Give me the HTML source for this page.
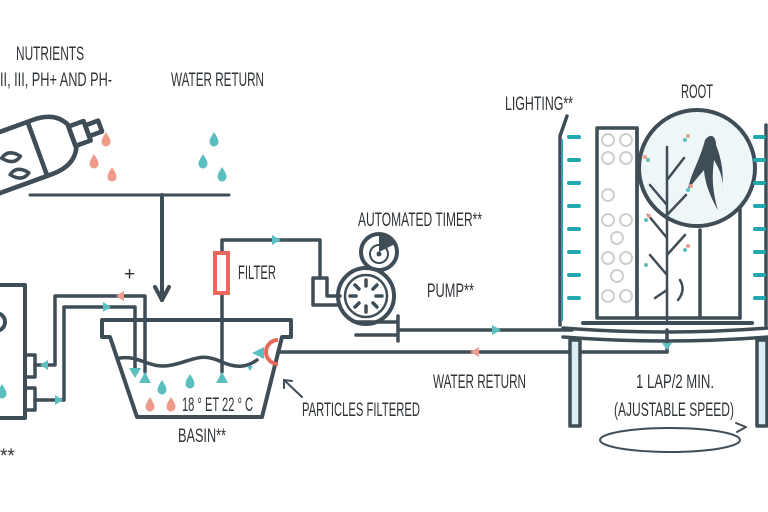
<!DOCTYPE html>
<html><head><meta charset="utf-8"><style>
html,body{margin:0;padding:0;background:#fff;}
svg{display:block;}
text{font-family:"Liberation Sans",sans-serif;fill:#2f3438;font-size:19px;}
</style></head><body>
<svg width="768" height="512" viewBox="0 0 768 512" xmlns="http://www.w3.org/2000/svg">
<defs>
<path id="drop" d="M0,-8 C3,-3 4.5,-1 4.5,2 A4.5,4.5 0 0 1 -4.5,2 C-4.5,-1 -3,-3 0,-8Z"/>
</defs>
<text x="50" y="60" text-anchor="middle" textLength="68" lengthAdjust="spacingAndGlyphs">NUTRIENTS</text>
<text x="0" y="86" textLength="112" lengthAdjust="spacingAndGlyphs">II, III, PH+ AND PH-</text>
<text x="171" y="86" textLength="93" lengthAdjust="spacingAndGlyphs">WATER RETURN</text>
<text x="238" y="279" textLength="38" lengthAdjust="spacingAndGlyphs">FILTER</text>
<text x="358" y="226" textLength="124" lengthAdjust="spacingAndGlyphs">AUTOMATED TIMER**</text>
<text x="427" y="297" textLength="47" lengthAdjust="spacingAndGlyphs">PUMP**</text>
<text x="433" y="388" textLength="93" lengthAdjust="spacingAndGlyphs">WATER RETURN</text>
<text x="302" y="416" textLength="118" lengthAdjust="spacingAndGlyphs">PARTICLES FILTERED</text>
<text x="182" y="411" textLength="71" lengthAdjust="spacingAndGlyphs">18 ° ET 22 ° C</text>
<text x="178" y="442" textLength="48" lengthAdjust="spacingAndGlyphs">BASIN**</text>
<text x="505" y="110" textLength="68" lengthAdjust="spacingAndGlyphs">LIGHTING**</text>
<text x="681" y="98" textLength="32" lengthAdjust="spacingAndGlyphs">ROOT</text>
<text x="636" y="388" textLength="78" lengthAdjust="spacingAndGlyphs">1 LAP/2 MIN.</text>
<text x="614" y="416" textLength="120" lengthAdjust="spacingAndGlyphs">(AJUSTABLE SPEED)</text>
<text x="0" y="462" font-size="11">**</text>
<text x="124" y="280" font-size="9" fill="#999">+</text>

<g fill="none" stroke="#3f4d57" stroke-width="4" stroke-linejoin="round" stroke-linecap="round">
<g transform="translate(-8,125) rotate(-20) scale(1.15)">
<path d="M-40,8 L35,8 Q55,8 62,22 L62,44 Q55,58 35,58 L-40,58"/>
<line x1="30" y1="8" x2="30" y2="58"/>
<rect x="62" y="24" width="14" height="18"/>
<rect x="76" y="28" width="12" height="10"/>
<path d="M-2,30 q8,-6 16,4 q-8,6 -16,-4z" stroke-width="3"/>
<path d="M0,46 q8,-6 16,4 q-8,6 -16,-4z" stroke-width="3"/>
</g>
<line x1="30" y1="195" x2="229" y2="195" stroke-width="3"/>
<line x1="162" y1="195" x2="162" y2="300"/>
<path d="M155,287 L162,300 L169,287"/>
<path d="M110,337 L102,337 L102,320 L291,320 L291,337 L282,337 L262,417 L137,417 Z"/>
<path d="M120,358 C140,355 150,370 172,365 C195,360 200,352 222,362 C240,370 250,365 257,360" stroke-width="3.5"/>
<path d="M145,372 L145,296 L55,296 L55,365 L35,365" stroke-width="3.5"/>
<path d="M135,370 L135,307 L64,307 L64,400 L35,400" stroke-width="3.5"/>
<rect x="-5" y="285" width="30" height="133"/>
<rect x="25" y="355" width="10" height="22" stroke-width="3.5"/>
<rect x="25" y="388" width="10" height="22" stroke-width="3.5"/>
<circle cx="-4" cy="322" r="9"/>
<path d="M222,372 L222,240 L320,240 L320,278 L313,278 L313,305 L340,305" stroke-width="3.5"/>
<path d="M320,278 L327,278 L327,296 L340,296" stroke-width="3.5"/>
<circle cx="366" cy="296" r="28"/>
<circle cx="366" cy="296" r="21" stroke-width="2.5"/>
<circle cx="379" cy="252" r="18"/>
<path d="M356,322 L398,322 M356,335 L398,335 M398,316 L398,341" stroke-width="3.5"/>
<line x1="398" y1="330" x2="572" y2="330" stroke-width="3.5"/>
<line x1="278" y1="352" x2="667" y2="352" stroke-width="3.5"/>
<line x1="667" y1="330" x2="667" y2="352" stroke-width="3.5"/>
<path d="M302,397 L284,380" stroke-width="2"/>
<path d="M284,388 L284,380 L292,381" stroke-width="2"/>
<path d="M567,116 L560,136 L560,325" stroke-width="3.5"/>
<path d="M766,125 L766,325" stroke-width="3.5"/>
<rect x="597" y="128" width="40" height="190" stroke-width="3.5"/>
<line x1="700" y1="230" x2="700" y2="318" stroke-width="3.5"/>
<line x1="740" y1="160" x2="740" y2="318" stroke-width="3.5"/>
<line x1="637" y1="318" x2="740" y2="318" stroke-width="3.5"/>
<line x1="583" y1="323" x2="752" y2="323" stroke-width="4"/>
<path d="M563,328 Q667,336 768,328 M563,337 Q667,345 768,337" stroke-width="3.5"/>
<rect x="570" y="340" width="10" height="86" fill="#ddeef2" stroke-width="3.5"/>
<rect x="757" y="340" width="10" height="86" fill="#ddeef2" stroke-width="3.5"/>
<circle cx="697" cy="168" r="58" fill="#eef6f8"/>
<line x1="637" y1="128" x2="637" y2="318" stroke-width="3.5"/>
<path d="M667,320 L667,147 M667,238 L648,215 M667,205 L650,185 M667,275 L650,255 M667,290 L655,298 M667,255 L685,235 M667,215 L686,195 M667,180 L684,158" stroke-width="2.5"/>
<path d="M678,300 q8,-10 2,-20" stroke-width="2.5"/>
<ellipse cx="670" cy="440" rx="70" ry="12" stroke-width="2"/>
<path d="M736,423 L746,427 L737,432" stroke-width="2"/>
</g>
<g stroke="#3f4d57" stroke-width="3.5" stroke-linecap="round">
<line x1="366" y1="280" x2="366" y2="286"/><line x1="366" y1="306" x2="366" y2="312"/>
<line x1="350" y1="296" x2="356" y2="296"/><line x1="376" y1="296" x2="382" y2="296"/>
<line x1="355" y1="285" x2="359" y2="289"/><line x1="373" y1="303" x2="377" y2="307"/>
<line x1="377" y1="285" x2="373" y2="289"/><line x1="359" y1="303" x2="355" y2="307"/>
</g>
<path d="M379,252 L379,234 A18,18 0 0 1 395,244 Z" fill="#3f4d57"/>
<circle cx="379" cy="254" r="9" fill="none" stroke="#3f4d57" stroke-width="2"/>
<circle cx="379" cy="254" r="2.5" fill="#3f4d57"/>
<path transform="translate(0,-25)" d="M705,165 C700,185 690,200 688,215 C695,205 700,200 704,195 C705,210 712,225 718,235 C712,215 712,200 714,185 C720,195 724,205 722,215 C724,200 722,185 716,170 C716,160 710,158 705,165Z" fill="#3f4d57"/>
<rect x="215" y="253" width="13" height="40" fill="#fff" stroke="#e8685c" stroke-width="4"/>
<path d="M278,340 A12,12 0 1 0 278,364" fill="none" stroke="#e8685c" stroke-width="4"/>
<g fill="#ef9b8a">
<use href="#drop" x="106" y="140"/><use href="#drop" x="94" y="162"/><use href="#drop" x="112" y="175"/>
<use href="#drop" x="150" y="405"/><use href="#drop" x="171" y="405"/>
</g>
<g fill="#5bbfc0">
<use href="#drop" x="214" y="140"/><use href="#drop" x="203" y="162"/><use href="#drop" x="222" y="175"/>
<use href="#drop" x="162" y="388"/><use href="#drop" x="190" y="382"/>
<use href="#drop" x="2" y="392"/>
</g>
<g fill="#5bbfc0">
<path d="M129,368 L141,368 L135,378Z"/><path d="M139,383 L151,383 L145,372Z"/>
<path d="M216,383 L228,383 L222,372Z"/>
<path d="M252,353 L264,347 L264,359Z"/>
<path d="M40,365 L48,360 L48,370Z"/>
<path d="M55,395 L55,405 L63,400Z"/>
<path d="M103,302 L103,312 L111,307Z"/>
<path d="M272,235 L272,245 L281,240Z"/>
<path d="M492,325 L492,335 L501,330Z"/>
<path d="M662,343 L672,343 L667,350Z"/>
<path d="M247,366 L253,366 L250,371Z"/>
</g>
<g fill="#ef9b8a">
<path d="M116,296 L124,291 L124,301Z"/>
<path d="M470,352 L479,347 L479,357Z"/>
</g>
<g stroke="#20aab0" stroke-width="4" stroke-linecap="round">
<line x1="569" y1="137" x2="579" y2="137"/><line x1="569" y1="160" x2="579" y2="160"/><line x1="569" y1="183" x2="579" y2="183"/><line x1="569" y1="206" x2="579" y2="206"/><line x1="569" y1="229" x2="579" y2="229"/><line x1="569" y1="252" x2="579" y2="252"/><line x1="569" y1="275" x2="579" y2="275"/><line x1="569" y1="298" x2="579" y2="298"/>
<line x1="755" y1="137" x2="764" y2="137"/><line x1="755" y1="160" x2="764" y2="160"/><line x1="755" y1="183" x2="764" y2="183"/><line x1="755" y1="206" x2="764" y2="206"/><line x1="755" y1="229" x2="764" y2="229"/><line x1="755" y1="252" x2="764" y2="252"/><line x1="755" y1="275" x2="764" y2="275"/><line x1="755" y1="298" x2="764" y2="298"/>
<line x1="562" y1="140" x2="562" y2="320" stroke-width="2"/>
</g>
<g fill="none" stroke="#cfcfcf" stroke-width="2">
<circle cx="608" cy="140" r="6"/><circle cx="626" cy="140" r="6"/><circle cx="608" cy="158" r="6"/><circle cx="626" cy="158" r="6"/>
<circle cx="608" cy="195" r="6"/><circle cx="608" cy="220" r="6"/><circle cx="626" cy="220" r="6"/><circle cx="617" cy="238" r="6"/>
<circle cx="608" cy="258" r="6"/><circle cx="626" cy="258" r="6"/><circle cx="617" cy="276" r="6"/><circle cx="608" cy="296" r="6"/><circle cx="626" cy="296" r="6"/>
</g>
<g fill="#5bbfc0"><circle cx="685" cy="140" r="2"/><circle cx="648" cy="160" r="2"/><circle cx="688" cy="190" r="2"/><circle cx="646" cy="220" r="2"/><circle cx="685" cy="250" r="2"/><circle cx="646" cy="265" r="2"/></g>
<g fill="#ef9b8a"><circle cx="688" cy="136" r="2"/><circle cx="645" cy="157" r="2"/><circle cx="691" cy="186" r="2"/><circle cx="649" cy="216" r="2"/><circle cx="688" cy="246" r="2"/></g>
</svg>
</body></html>
